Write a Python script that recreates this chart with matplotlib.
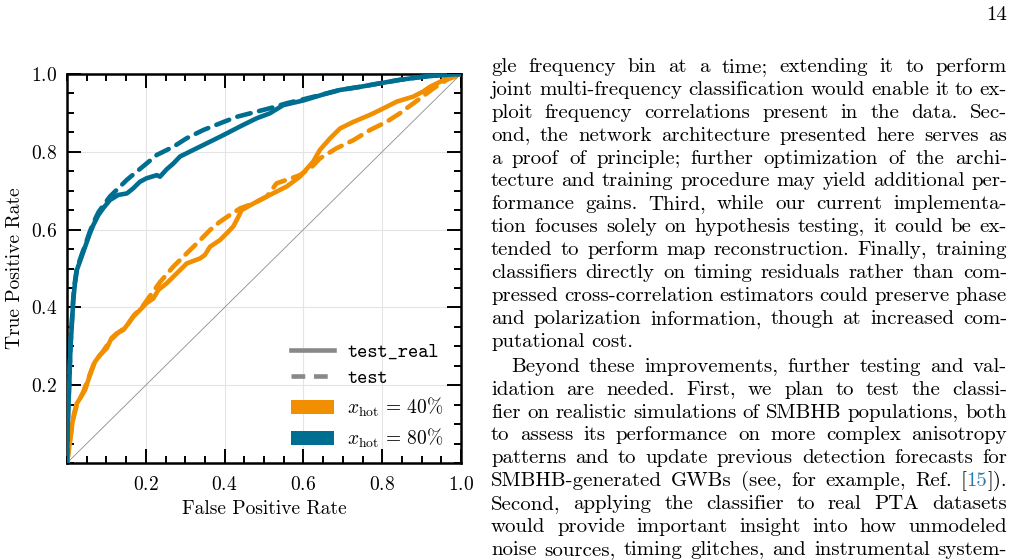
import matplotlib
matplotlib.use("Agg")
import matplotlib.pyplot as plt
from matplotlib.lines import Line2D
from matplotlib.patches import Patch
from matplotlib.ticker import MultipleLocator

plt.rcParams['font.family'] = 'serif'
plt.rcParams['font.serif'] = ['cmr10']
plt.rcParams['mathtext.fontset'] = 'cm'
plt.rcParams['axes.formatter.use_mathtext'] = True

ORANGE = '#F18F01'
BLUE = '#006E90'

# ROC curves: false positive rate / true positive rate
fpr_40_real = [0, 0.008, 0.012, 0.018, 0.025, 0.033, 0.046, 0.054, 0.063, 0.071, 0.084,
               0.101, 0.113, 0.126, 0.143, 0.156, 0.168, 0.185, 0.202, 0.219, 0.232,
               0.253, 0.287, 0.304, 0.338, 0.350, 0.363, 0.388, 0.405, 0.422, 0.435,
               0.443, 0.473, 0.507, 0.558, 0.591, 0.625, 0.642, 0.668, 0.693, 0.727,
               0.769, 0.794, 0.837, 0.879, 0.904, 0.921, 0.947, 0.972, 1.0]
tpr_40_real = [0, 0.059, 0.093, 0.128, 0.153, 0.166, 0.188, 0.213, 0.239, 0.260, 0.278,
               0.295, 0.321, 0.333, 0.342, 0.359, 0.376, 0.393, 0.411, 0.423, 0.445,
               0.462, 0.496, 0.513, 0.526, 0.535, 0.556, 0.573, 0.590, 0.608, 0.633,
               0.650, 0.667, 0.685, 0.711, 0.736, 0.775, 0.805, 0.835, 0.860, 0.877,
               0.895, 0.907, 0.929, 0.942, 0.955, 0.967, 0.980, 0.993, 1.0]

fpr_40_test = [0, 0.008, 0.015, 0.025, 0.040, 0.055, 0.070, 0.090, 0.110, 0.130, 0.150,
               0.170, 0.190, 0.211, 0.236, 0.270, 0.304, 0.338, 0.363, 0.388, 0.414,
               0.440, 0.473, 0.507, 0.532, 0.558, 0.591, 0.620, 0.642, 0.684, 0.727,
               0.769, 0.811, 0.845, 0.862, 0.896, 0.930, 0.964, 1.0]
tpr_40_test = [0, 0.060, 0.110, 0.150, 0.180, 0.220, 0.260, 0.285, 0.315, 0.335, 0.350,
               0.380, 0.400, 0.430, 0.465, 0.505, 0.539, 0.573, 0.599, 0.620, 0.638,
               0.655, 0.667, 0.685, 0.719, 0.728, 0.740, 0.760, 0.783, 0.809, 0.830,
               0.856, 0.877, 0.899, 0.912, 0.937, 0.963, 0.985, 1.0]

fpr_80_real = [0, 0.001, 0.003, 0.006, 0.009, 0.012, 0.016, 0.020, 0.025, 0.037, 0.046,
               0.058, 0.067, 0.080, 0.092, 0.109, 0.130, 0.152, 0.168, 0.185, 0.202,
               0.228, 0.236, 0.253, 0.270, 0.287, 0.321, 0.363, 0.397, 0.439, 0.481,
               0.515, 0.549, 0.600, 0.659, 0.693, 0.744, 0.794, 0.845, 0.896, 0.947, 1.0]
tpr_80_real = [0, 0.050, 0.130, 0.210, 0.300, 0.350, 0.420, 0.460, 0.496, 0.530, 0.556,
               0.590, 0.612, 0.638, 0.655, 0.676, 0.689, 0.693, 0.706, 0.723, 0.732,
               0.740, 0.736, 0.755, 0.770, 0.788, 0.805, 0.826, 0.843, 0.865, 0.886,
               0.899, 0.920, 0.932, 0.950, 0.959, 0.967, 0.976, 0.985, 0.992, 0.997, 1.0]

fpr_80_test = [0, 0.001, 0.003, 0.006, 0.009, 0.012, 0.016, 0.020, 0.025, 0.037, 0.046,
               0.058, 0.067, 0.080, 0.092, 0.109, 0.126, 0.152, 0.177, 0.202, 0.228,
               0.236, 0.270, 0.304, 0.346, 0.388, 0.431, 0.473, 0.515, 0.558, 0.600,
               0.659, 0.693, 0.744, 0.794, 0.845, 0.896, 0.947, 1.0]
tpr_80_test = [0, 0.055, 0.140, 0.220, 0.305, 0.360, 0.425, 0.465, 0.500, 0.535, 0.560,
               0.595, 0.618, 0.645, 0.662, 0.685, 0.702, 0.728, 0.749, 0.770, 0.792,
               0.796, 0.813, 0.835, 0.856, 0.873, 0.890, 0.901, 0.912, 0.925, 0.935,
               0.950, 0.959, 0.967, 0.976, 0.985, 0.992, 0.997, 1.0]

chance = [0, 1]
ticks = [0.2, 0.4, 0.6, 0.8, 1.0]

legend_labels = ['test_real', 'test', r'$x_{\rm hot}\,=\,40\%$', r'$x_{\rm hot}\,=\,80\%$']

page_number = '14'
para1 = [
    "gle frequency bin at a time; extending it to perform",
    "joint multi-frequency classification would enable it to ex-",
    "ploit frequency correlations present in the data.  Sec-",
    "ond, the network architecture presented here serves as",
    "a proof of principle; further optimization of the archi-",
    "tecture and training procedure may yield additional per-",
    "formance gains.  Third, while our current implementa-",
    "tion focuses solely on hypothesis testing, it could be ex-",
    "tended to perform map reconstruction. Finally, training",
    "classifiers directly on timing residuals rather than com-",
    "pressed cross-correlation estimators could preserve phase",
    "and polarization information, though at increased com-",
    "putational cost.",
]
para2 = [
    "Beyond these improvements, further testing and val-",
    "idation are needed.  First, we plan to test the classi-",
    "fier on realistic simulations of SMBHB populations, both",
    "to assess its performance on more complex anisotropy",
    "patterns and to update previous detection forecasts for",
    "SMBHB-generated GWBs (see, for example, Ref. [|15|]).",
    "Second, applying the classifier to real PTA datasets",
    "would provide important insight into how unmodeled",
    "noise sources, timing glitches, and instrumental system-",
]

W, H = 1014, 560
fig = plt.figure(figsize=(W / 100, H / 100), dpi=100)
ax = fig.add_axes([67 / W, 1 - 463 / H, 394 / W, 389 / H])

lw = 3.3
dash = (0, (3.0, 1.9))
ax.plot(chance, chance, color='#8c8c8c', lw=0.6, zorder=1)
ax.plot(fpr_40_real, tpr_40_real, color=ORANGE, lw=lw, solid_capstyle='round', zorder=3)
ax.plot(fpr_40_test, tpr_40_test, color=ORANGE, lw=lw, ls=dash, dash_capstyle='round', zorder=3)
ax.plot(fpr_80_real, tpr_80_real, color=BLUE, lw=lw, solid_capstyle='round', zorder=3)
ax.plot(fpr_80_test, tpr_80_test, color=BLUE, lw=lw, ls=dash, dash_capstyle='round', zorder=3)

ax.set_xlim(0, 1)
ax.set_ylim(0, 1)
ax.set_xticks(ticks)
ax.set_yticks(ticks)
ax.xaxis.set_minor_locator(MultipleLocator(0.05))
ax.yaxis.set_minor_locator(MultipleLocator(0.05))
ax.tick_params(which='both', direction='in', top=True, right=True, width=1.4, labelsize=14, pad=7)
ax.tick_params(axis='x', which='both', pad=9)
ax.tick_params(which='major', length=10)
ax.tick_params(which='minor', length=5)
for s in ax.spines.values():
    s.set_linewidth(1.8)
ax.grid(True, which='major', color='#e4e4e4', lw=0.8)
ax.set_axisbelow(True)
ax.set_xlabel('False Positive Rate', fontsize=14, labelpad=5)
ax.set_ylabel('True Positive Rate', fontsize=14, labelpad=5)

handles = [Line2D([], [], color='#888888', lw=lw),
           Line2D([], [], color='#888888', lw=lw, ls=dash),
           Patch(facecolor=ORANGE, edgecolor='none'),
           Patch(facecolor=BLUE, edgecolor='none')]
leg = ax.legend(handles, legend_labels, loc='lower right', frameon=False, fontsize=14,
                handlelength=2.2, labelspacing=0.4, handletextpad=0.7,
                bbox_to_anchor=(1.0, -0.012))
for t in leg.get_texts()[:2]:
    t.set_fontfamily('cmtt10')

# page text to the right of the figure
renderer = fig.canvas.get_renderer()
left, right = 491, 1007
body_size = 15
link_color = '#2A7AB0'


def put(x, y, s, color='black'):
    return fig.text(x / W, 1 - y / H, s, fontsize=body_size, color=color, va='baseline', ha='left')


def word_pieces(word):
    parts = word.split('|')
    return [(p, 'black' if i % 2 == 0 else link_color) for i, p in enumerate(parts) if p]


def draw_line(line, y, x0, justify):
    words = line.split()
    widths = []
    for w in words:
        tot = 0
        for p, c in word_pieces(w):
            t = put(0, y, p)
            tot += t.get_window_extent(renderer).width
            t.remove()
        widths.append(tot)
    a = put(0, y, 'a b')
    b = put(0, y, 'ab')
    sp = a.get_window_extent(renderer).width - b.get_window_extent(renderer).width
    a.remove()
    b.remove()
    if justify and len(words) > 1:
        gap = (right - x0 - sum(widths)) / (len(words) - 1)
    else:
        gap = sp
    x = x0
    for w, wd in zip(words, widths):
        xx = x
        for p, c in word_pieces(w):
            t = put(xx, y, p, c)
            xx += t.get_window_extent(renderer).width
        x += wd + gap


for i, line in enumerate(para1):
    draw_line(line, 72 + i * 22.9, left, i < len(para1) - 1)
for i, line in enumerate(para2):
    draw_line(line, 371.7 + i * 22.9, left + 20 if i == 0 else left, True)

fig.text(1007 / W, 1 - 20.5 / H, page_number, fontsize=body_size, ha='right', va='baseline')

fig.savefig('out.png', dpi=100)
